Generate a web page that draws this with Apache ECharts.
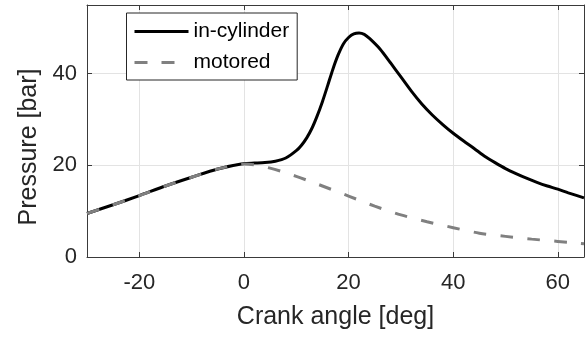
<!DOCTYPE html>
<html>
<head>
<meta charset="utf-8">
<script src="https://cdn.jsdelivr.net/npm/echarts@6/dist/echarts.min.js"></script>
<style>
  html, body { margin: 0; padding: 0; background: #fff; }
  #chart { width: 587px; height: 340px; }
</style>
</head>
<body>
<div id="chart"></div>
<script>
// Crank angle [deg] and pressure [bar] for the fired cycle
const cylAngle = [-30, -25, -20, -15, -10, -5, 0, 2, 4, 6, 8, 10, 11, 12, 13, 14, 15, 16, 17, 18, 19, 20, 21, 22, 23, 24, 26, 28, 30, 32, 34, 36, 38, 40, 42, 44, 46, 48, 50, 52, 54, 56, 58, 60, 62, 65];
const cylPressure = [9.5, 11.4, 13.4, 15.5, 17.4, 19.2, 20.4, 20.5, 20.6, 20.9, 21.6, 23.2, 24.4, 26.0, 28.1, 30.8, 33.9, 37.4, 41.0, 44.1, 46.5, 47.9, 48.7, 48.9, 48.6, 47.7, 45.4, 42.4, 39.3, 36.2, 33.4, 31.0, 28.9, 27.0, 25.3, 23.7, 22.0, 20.6, 19.3, 18.2, 17.2, 16.3, 15.5, 14.8, 14.0, 12.9];

// Motored (no combustion) trace
const motAngle = [-30, -25, -20, -15, -10, -5, 0, 5, 10, 15, 20, 25, 30, 35, 40, 45, 50, 55, 60, 65];
const motPressure = [9.5, 11.4, 13.4, 15.5, 17.4, 19.2, 20.3, 19.4, 17.6, 15.5, 13.3, 11.1, 9.2, 7.7, 6.4, 5.2, 4.5, 3.9, 3.4, 2.9];

const seriesNames = ['in-cylinder', 'motored'];

const zip = (xs, ys) => xs.map((x, i) => [x, ys[i]]);

const FONT = '"Liberation Sans", Arial, Helvetica, sans-serif';
const TXT = '#262626';
const AXIS = '#3a3a3a';
const GRID = '#e3e3e3';

const tickLabel = v => (v % 20 === 0 ? String(v) : '');

const chart = echarts.init(document.getElementById('chart'), null, { renderer: 'canvas' });

chart.setOption({
  animation: false,
  backgroundColor: '#ffffff',
  grid: { left: 87, right: 1, top: 5, bottom: 83, containLabel: false },
  legend: {
    orient: 'vertical',
    left: 126.5,
    top: 13,
    padding: [8, 8, 7, 6.5],
    itemWidth: 54,
    itemHeight: 20,
    itemGap: 10,
    borderColor: '#262626',
    borderWidth: 1,
    borderRadius: 0,
    backgroundColor: '#ffffff',
    itemStyle: { opacity: 0 },
    lineStyle: { width: 3 },
    textStyle: { fontFamily: FONT, fontSize: 21, color: '#000' },
    data: seriesNames
  },
  xAxis: [
    {
      type: 'value', min: -30, max: 65, splitNumber: 5,
      name: 'Crank angle [deg]', nameLocation: 'middle', nameGap: 48,
      nameTextStyle: { fontFamily: FONT, fontSize: 25, color: TXT },
      axisLine: { show: true, onZero: false, lineStyle: { color: AXIS, width: 1 } },
      axisTick: { show: true, inside: true, length: 5, lineStyle: { color: AXIS } },
      axisLabel: { fontFamily: FONT, fontSize: 22, color: TXT, margin: 15, formatter: tickLabel },
      splitLine: { show: true, lineStyle: { color: GRID, width: 1 } }
    },
    {
      type: 'value', min: -30, max: 65, splitNumber: 5, position: 'top',
      axisLine: { show: true, onZero: false, lineStyle: { color: AXIS, width: 1 } },
      axisTick: { show: true, inside: true, length: 5, lineStyle: { color: AXIS } },
      axisLabel: { show: false },
      splitLine: { show: false }
    }
  ],
  yAxis: [
    {
      type: 'value', min: 0, max: 55, splitNumber: 3,
      name: 'Pressure [bar]', nameLocation: 'middle', nameGap: 44, nameRotate: 90,
      nameTextStyle: { fontFamily: FONT, fontSize: 25, color: TXT, padding: [0, 32, 0, 0] },
      axisLine: { show: true, onZero: false, lineStyle: { color: AXIS, width: 1 } },
      axisTick: { show: true, inside: true, length: 5, lineStyle: { color: AXIS } },
      axisLabel: { fontFamily: FONT, fontSize: 22, color: TXT, margin: 10, formatter: tickLabel },
      splitLine: { show: true, lineStyle: { color: GRID, width: 1 } }
    },
    {
      type: 'value', min: 0, max: 55, splitNumber: 3, position: 'right',
      axisLine: { show: true, onZero: false, lineStyle: { color: AXIS, width: 1 } },
      axisTick: { show: true, inside: true, length: 5, lineStyle: { color: AXIS } },
      axisLabel: { show: false },
      splitLine: { show: false }
    }
  ],
  series: [
    {
      name: seriesNames[0], type: 'line', xAxisIndex: 0, yAxisIndex: 0,
      data: zip(cylAngle, cylPressure),
      smooth: 0.25, symbol: 'none', showSymbol: false,
      lineStyle: { color: '#000000', width: 3 },
      itemStyle: { color: '#000000' }
    },
    {
      name: seriesNames[1], type: 'line', xAxisIndex: 0, yAxisIndex: 0,
      data: zip(motAngle, motPressure),
      smooth: 0.3, symbol: 'none', showSymbol: false,
      lineStyle: { color: '#808080', width: 3, type: [13, 14] },
      itemStyle: { color: '#808080' }
    }
  ]
});
</script>
</body>
</html>
